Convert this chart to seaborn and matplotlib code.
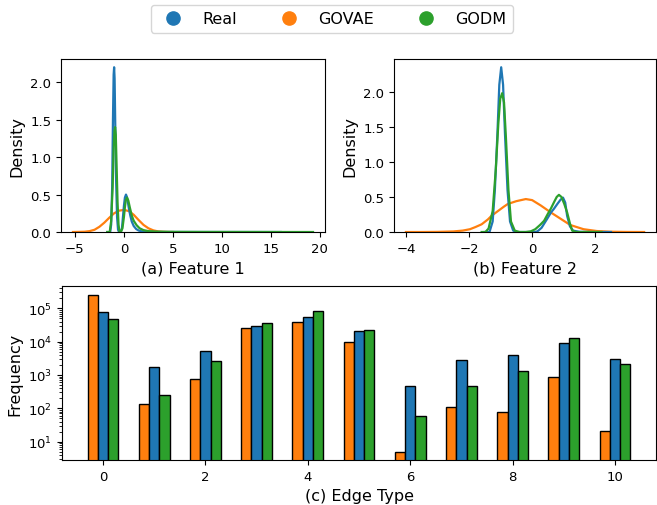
import numpy as np
import pandas as pd
import matplotlib
matplotlib.use("Agg")
import matplotlib.pyplot as plt
from matplotlib.lines import Line2D
import seaborn as sns

# ---------------- data ----------------
models = ["Real", "GOVAE", "GODM"]
colors = {"Real": "#1f77b4", "GOVAE": "#ff7f0e", "GODM": "#2ca02c"}

# Feature 1 density curves
f1_real_x = [-1.7, -1.4, -1.3, -1.2, -1.12, -1.05, -1.0, -0.95, -0.88, -0.8, -0.7, -0.6, -0.5, -0.35,
             -0.2, -0.1, 0.0, 0.1, 0.21, 0.3, 0.4, 0.5, 0.65, 0.8, 1.0, 1.25, 1.5, 1.8, 2.2, 3.0, 4.0,
             8.0, 12.0, 16.0]
f1_real_y = [0.0, 0.0, 0.1, 0.6, 1.5, 2.1, 2.2, 2.05, 1.4, 0.7, 0.2, 0.03, 0.0, 0.0,
             0.05, 0.2, 0.35, 0.46, 0.5, 0.47, 0.4, 0.32, 0.22, 0.14, 0.08, 0.04, 0.02, 0.01, 0.005, 0.002, 0.001,
             0.0005, 0.0003, 0.0]
f1_govae_x = [-5.2, -4.5, -4.0, -3.5, -3.0, -2.5, -2.0, -1.5, -1.0, -0.5, 0.0, 0.5, 1.0, 1.5, 2.0,
              2.5, 3.0, 3.5, 4.0, 4.5, 5.0]
f1_govae_y = [0.0, 0.002, 0.004, 0.012, 0.03, 0.07, 0.125, 0.19, 0.25, 0.285, 0.295, 0.28, 0.23, 0.16, 0.095,
              0.05, 0.022, 0.008, 0.003, 0.001, 0.0]
f1_godm_x = [-1.7, -1.45, -1.3, -1.15, -1.05, -0.97, -0.9, -0.83, -0.75, -0.65, -0.55, -0.45, -0.3, -0.15,
             0.0, 0.1, 0.2, 0.32, 0.45, 0.6, 0.8, 1.0, 1.3, 1.6, 2.0, 2.5, 3.2, 4.5, 8.0, 14.0, 19.3]
f1_godm_y = [0.0, 0.0, 0.15, 0.6, 1.1, 1.35, 1.4, 1.3, 0.9, 0.4, 0.1, 0.0, 0.0, 0.05,
             0.2, 0.33, 0.43, 0.46, 0.42, 0.33, 0.22, 0.15, 0.09, 0.05, 0.025, 0.012, 0.005, 0.002, 0.001, 0.0005, 0.0]

# Feature 2 density curves
f2_real_x = [-1.5, -1.35, -1.25, -1.18, -1.1, -1.04, -0.98, -0.92, -0.86, -0.78, -0.7, -0.6, -0.5, -0.3,
             -0.1, 0.1, 0.17, 0.3, 0.48, 0.6, 0.69, 0.8, 0.9, 0.98, 1.05, 1.11, 1.2, 1.3, 1.5, 2.0, 2.5]
f2_real_y = [0.0, 0.0, 0.15, 0.6, 1.4, 2.1, 2.35, 2.1, 1.4, 0.6, 0.15, 0.02, 0.0, 0.0,
             0.0, 0.0, 0.01, 0.06, 0.19, 0.28, 0.33, 0.4, 0.46, 0.49, 0.42, 0.23, 0.08, 0.02, 0.003, 0.0, 0.0]
f2_govae_x = [-4.0, -3.5, -3.0, -2.5, -2.2, -1.97, -1.8, -1.6, -1.4, -1.29, -1.08, -0.9, -0.77, -0.5,
              -0.2, 0.0, 0.27, 0.59, 0.9, 1.21, 1.63, 2.05, 2.5, 3.0, 3.55]
f2_govae_y = [0.0, 0.0, 0.002, 0.008, 0.02, 0.04, 0.07, 0.11, 0.18, 0.23, 0.30, 0.36, 0.40, 0.44,
              0.47, 0.455, 0.38, 0.28, 0.19, 0.1, 0.04, 0.014, 0.004, 0.001, 0.0]
f2_godm_x = [-1.6, -1.48, -1.38, -1.25, -1.15, -1.07, -1.01, -0.95, -0.89, -0.83, -0.75, -0.67, -0.55, -0.4,
             -0.2, -0.04, 0.1, 0.25, 0.38, 0.5, 0.59, 0.7, 0.78, 0.85, 0.93, 1.02, 1.11, 1.2, 1.27, 1.4, 1.7, 2.2]
f2_godm_y = [0.0, 0.0, 0.05, 0.3, 0.9, 1.55, 1.9, 1.98, 1.85, 1.35, 0.6, 0.15, 0.02, 0.0,
             0.0, 0.01, 0.04, 0.1, 0.16, 0.26, 0.33, 0.43, 0.5, 0.53, 0.5, 0.4, 0.28, 0.12, 0.02, 0.0, 0.0, 0.0]

# Edge type frequencies
edge_types = [0, 1, 2, 3, 4, 5, 6, 7, 8, 9, 10]
freq_real = [76000, 1760, 5100, 30000, 53700, 20400, 474, 2800, 3880, 9080, 3000]
freq_govae = [256000, 134, 753, 25000, 38000, 9500, 4.8, 111, 78.5, 865, 20.7]
freq_godm = [48000, 250, 2670, 35500, 81000, 22000, 58, 465, 1310, 13100, 2090]

# ---------------- plot ----------------
plt.rcParams["font.family"] = ["DejaVu Sans"]
fig = plt.figure(figsize=(6.57, 5.06), dpi=100)
ax1 = fig.add_axes([0.0928, 0.5395, 0.4019, 0.3419])
ax2 = fig.add_axes([0.5997, 0.5395, 0.3988, 0.3419])
ax3 = fig.add_axes([0.0944, 0.0889, 0.9041, 0.3433])

LABEL = 11.5
TICK = 9.5

def draw_density(ax, curves, xlabel):
    for name, (xs, ys) in curves.items():
        df = pd.DataFrame({"x": xs, "y": ys})
        sns.lineplot(data=df, x="x", y="y", ax=ax, color=colors[name], linewidth=1.6,
                     sort=False, estimator=None)
    ax.set_ylim(bottom=0)
    ax.set_xlabel(xlabel, fontsize=LABEL)
    ax.set_ylabel("Density", fontsize=LABEL)
    ax.tick_params(labelsize=TICK)

draw_density(ax1, {"GOVAE": (f1_govae_x, f1_govae_y),
                   "Real": (f1_real_x, f1_real_y),
                   "GODM": (f1_godm_x, f1_godm_y)}, "(a) Feature 1")
ax1.set_xticks([-5, 0, 5, 10, 15, 20])
ax1.set_yticks([0.0, 0.5, 1.0, 1.5, 2.0])

draw_density(ax2, {"GOVAE": (f2_govae_x, f2_govae_y),
                   "Real": (f2_real_x, f2_real_y),
                   "GODM": (f2_godm_x, f2_godm_y)}, "(b) Feature 2")
ax2.set_xticks([-4, -2, 0, 2])
ax2.set_yticks([0.0, 0.5, 1.0, 1.5, 2.0])

bar_df = pd.DataFrame({
    "edge": edge_types * 3,
    "model": ["Real"] * 11 + ["GOVAE"] * 11 + ["GODM"] * 11,
    "freq": freq_real + freq_govae + freq_godm,
})
sns.barplot(data=bar_df, x="edge", y="freq", hue="model", hue_order=["GOVAE", "Real", "GODM"],
            palette=colors, width=0.6, edgecolor="black", linewidth=1.0, errorbar=None,
            ax=ax3, legend=False, saturation=1)
ax3.set_yscale("log")
ax3.set_ylim(2.8, 4.6e5)
ax3.set_xlim(-0.8, 10.8)
ax3.set_xticks([0, 2, 4, 6, 8, 10])
ax3.set_xticklabels(["0", "2", "4", "6", "8", "10"])
ax3.set_xlabel("(c) Edge Type", fontsize=LABEL)
ax3.set_ylabel("Frequency", fontsize=LABEL)
ax3.tick_params(labelsize=TICK)

handles = [Line2D([], [], marker="o", linestyle="none", markersize=9.5,
                  color=colors[m], label=m) for m in models]
fig.legend(handles=handles, loc="center", bbox_to_anchor=(0.505, 0.961), ncol=3,
           fontsize=11.5, columnspacing=2.3, handletextpad=0.8)

fig.savefig("out.png", dpi=100)
